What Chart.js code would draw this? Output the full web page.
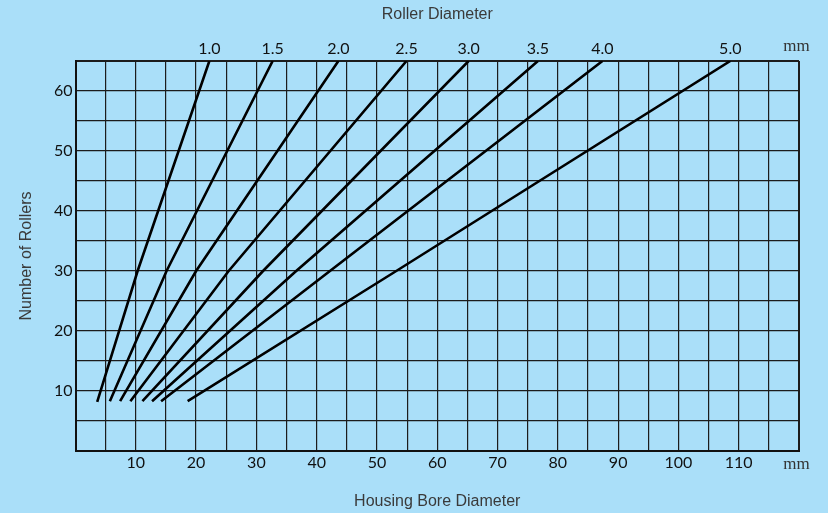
<!DOCTYPE html>
<html>
<head>
<meta charset="utf-8">
<script src="https://cdn.jsdelivr.net/npm/chart.js@4/dist/chart.umd.min.js"></script>
<style>
  html, body { margin: 0; padding: 0; background: #aadff9; }
  #wrap { width: 828px; height: 513px; position: relative; }
</style>
</head>
<body>
<div id="wrap"><canvas id="c" width="828" height="513"></canvas></div>
<script>
// Roller diameters (mm) labelling each line
const diameters = ['1.0', '1.5', '2.0', '2.5', '3.0', '3.5', '4.0', '5.0'];
// Lower end of each line: housing bore (mm) and number of rollers
const boreStart = [3.6, 5.7, 7.4, 9.1, 11.1, 12.7, 14.2, 18.6];
const rollersStart = [8.2, 8.3, 8.3, 8.3, 8.3, 8.3, 8.3, 8.3];
// Bore where each line crosses 30 rollers
const boreAt30 = [10.3, 15.1, 20.0, 25.4, 31.1, 36.6, 42.2, 53.2];
const rollersMid = [30, 30, 30, 30, 30, 30, 30, 30];
// Upper end of each line (top of the chart)
const boreEnd = [22.2, 32.7, 43.6, 54.9, 65.2, 76.7, 87.4, 108.6];
const rollersEnd = [65, 65, 65, 65, 65, 65, 65, 65];
// Axis tick labels
const xTickLabels = [10, 20, 30, 40, 50, 60, 70, 80, 90, 100, 110];
const yTickLabels = [10, 20, 30, 40, 50, 60];

const datasets = diameters.map((d, i) => ({
  label: d + ' mm',
  data: [
    { x: boreStart[i], y: rollersStart[i] },
    { x: boreAt30[i], y: rollersMid[i] },
    { x: boreEnd[i], y: rollersEnd[i] }
  ],
  showLine: true,
  borderColor: '#000',
  borderWidth: 2.6,
  pointRadius: 0,
  tension: 0,
  fill: false
}));

const bgPlugin = {
  id: 'bg',
  beforeDraw(chart) {
    const ctx = chart.ctx;
    ctx.save();
    ctx.fillStyle = '#aadff9';
    ctx.fillRect(0, 0, chart.width, chart.height);
    ctx.restore();
  }
};

const unitPlugin = {
  id: 'units',
  afterDraw(chart) {
    const ctx = chart.ctx;
    const xs = chart.scales.x;
    ctx.save();
    ctx.font = '17px "Liberation Serif", "DejaVu Serif", serif';
    ctx.fillStyle = '#333';
    ctx.textAlign = 'center';
    ctx.textBaseline = 'middle';
    const ux = xs.right - 2.5;
    ctx.fillText('mm', ux, chart.chartArea.top - 14);
    ctx.fillText('mm', ux, chart.chartArea.bottom + 14);
    ctx.restore();
  }
};

const tickFont = { family: 'Lato, "Noto Sans", sans-serif', size: 16 };
const titleFont = { family: '"Liberation Sans", Arial, sans-serif', size: 16 };
const gridColor = '#1c1c1c';

new Chart(document.getElementById('c'), {
  type: 'scatter',
  data: { datasets },
  plugins: [bgPlugin, unitPlugin],
  options: {
    responsive: false,
    animation: false,
    layout: { padding: { left: 0, right: 29, top: 0, bottom: 0 } },
    plugins: { legend: { display: false }, tooltip: { enabled: false } },
    scales: {
      x: {
        type: 'linear',
        position: 'bottom',
        min: 0, max: 120,
        afterFit(s) { s.height = 62; },
        ticks: {
          stepSize: 5,
          autoSkip: false,
          maxRotation: 0,
          padding: 2,
          color: '#111',
          font: tickFont,
          callback: (v) => xTickLabels.includes(v) ? String(v) : ''
        },
        grid: {
          color: gridColor,
          lineWidth: (c) => (c.tick && (c.tick.value === 0 || c.tick.value === 120)) ? 2 : 1.2,
          drawTicks: false
        },
        border: { display: true, color: '#111', width: 2 },
        title: {
          display: true,
          text: 'Housing Bore Diameter',
          color: '#3a3a3a',
          font: titleFont,
          padding: { top: 0, bottom: 2 }
        }
      },
      x2: {
        type: 'linear',
        position: 'top',
        min: 0, max: 120,
        afterFit(s) { s.height = 61; },
        afterBuildTicks(s) { s.ticks = boreEnd.map(v => ({ value: v })); },
        ticks: {
          autoSkip: false,
          maxRotation: 0,
          padding: 3,
          color: '#111',
          font: tickFont,
          callback: (v, i) => diameters[i]
        },
        grid: { display: false, drawTicks: false },
        border: { display: false },
        title: {
          display: true,
          text: 'Roller Diameter',
          color: '#3a3a3a',
          font: titleFont,
          padding: { top: 5, bottom: 0 }
        }
      },
      y: {
        type: 'linear',
        position: 'left',
        min: 0, max: 65,
        afterFit(s) { s.width = 75.5; },
        ticks: {
          stepSize: 5,
          autoSkip: false,
          padding: 3,
          color: '#111',
          font: tickFont,
          callback: (v) => yTickLabels.includes(v) ? String(v) : ''
        },
        grid: {
          color: gridColor,
          lineWidth: (c) => (c.tick && (c.tick.value === 0 || c.tick.value === 65)) ? 2 : 1.2,
          drawTicks: false
        },
        border: { display: true, color: '#111', width: 2 },
        title: {
          display: true,
          text: 'Number of Rollers',
          color: '#3a3a3a',
          font: titleFont,
          padding: { top: 17, bottom: 0 }
        }
      }
    }
  }
});
</script>
</body>
</html>
